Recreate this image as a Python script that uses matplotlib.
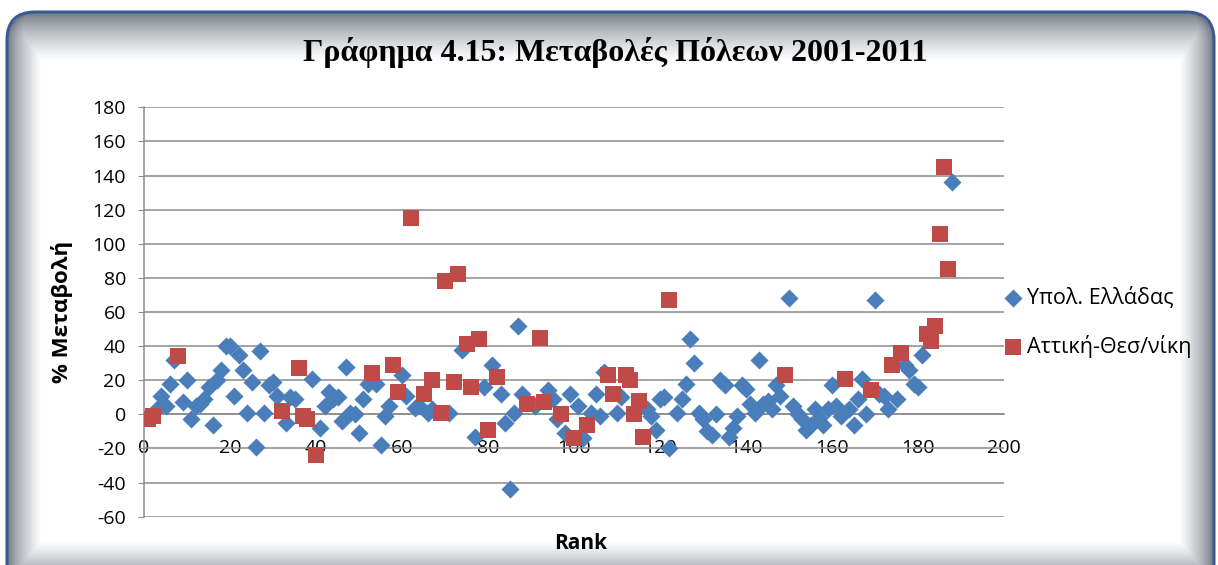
import numpy as np
import matplotlib
matplotlib.use("Agg")
import matplotlib.pyplot as plt
from matplotlib.patches import FancyBboxPatch

plt.rcParams["font.family"] = ["Open Sans", "DejaVu Sans"]
plt.rcParams["axes.unicode_minus"] = False

# rank / % change, rest of Greece
rest_rank = [3, 4, 5, 6, 7, 9, 10, 11, 12, 13, 14, 15, 16, 17, 18, 19, 20, 21, 22, 23,
             24, 25, 26, 27, 28, 29, 30, 31, 33, 34, 35, 39, 41, 42, 43, 44, 45, 46, 47, 48,
             49, 50, 51, 52, 54, 55, 56, 57, 60, 61, 63, 64, 66, 67, 71, 74, 77, 79, 81, 83,
             84, 85, 86, 87, 88, 91, 94, 95, 96, 98, 99, 101, 102, 104, 105, 106, 107, 110, 111, 117,
             118, 119, 120, 121, 122, 124, 125, 126, 127, 128, 129, 130, 131, 132, 133, 134, 135, 136, 137, 138,
             139, 140, 141, 142, 143, 144, 145, 146, 147, 148, 150, 151, 152, 153, 154, 155, 156, 157, 158, 159,
             160, 161, 162, 164, 165, 166, 167, 168, 170, 171, 172, 173, 175, 177, 178, 179, 180, 181, 188]
rest_change = [3, 11, 5, 18, 32, 7, 20, -3, 5, 6, 9, 16, -6, 20, 26, 40, 40, 11, 35, 26,
               1, 19, -19, 37, 1, 17, 19, 11, -5, 10, 9, 21, -8, 5, 13, 9, 10, -4, 28, 1,
               0, -11, 9, 18, 18, -18, -1, 5, 23, 11, 4, 5, 1, 3, 1, 38, -13, 16, 29, 12,
               -5, -44, 1, 52, 12, 5, 14, 9, -3, -11, 12, 5, -14, 1, 12, -1, 25, 1, 10, 3,
               -1, -9, 9, 10, -20, 1, 9, 18, 44, 30, 1, -3, -10, -12, 0, 20, 17, -13, -8, -1,
               17, 15, 6, 1, 32, 6, 8, 3, 17, 11, 68, 5, 0, -3, -9, -6, 3, -2, -6, 3,
               17, 5, -1, 3, -6, 9, 21, 0, 67, 12, 11, 3, 9, 29, 26, 18, 16, 35, 136]

# rank / % change, Attica - Thessaloniki
att_rank = [1, 2, 8, 32, 36, 37, 38, 40, 53, 58, 59, 62, 65, 67, 69, 70, 72, 73, 75, 76,
            78, 80, 82, 89, 92, 93, 97, 100, 103, 108, 109, 112, 113, 114, 115, 116, 122, 149, 163, 169,
            174, 176, 182, 183, 184, 185, 186, 187]
att_change = [-3, -1, 34, 2, 27, -1, -3, -24, 24, 29, 13, 115, 12, 20, 1, 78, 19, 82, 41, 16,
              44, -9, 22, 6, 45, 7, 0, -14, -6, 23, 12, 23, 20, 0, 8, -13, 67, 23, 21, 14,
              29, 36, 47, 43, 52, 106, 145, 85]

W, H = 1218, 565
fig = plt.figure(figsize=(W / 100, H / 100), dpi=100)

# chart area background: rounded frame with a soft grey inner shadow
bg = fig.add_axes([0, 0, 1, 1], zorder=-5)
yy, xx = np.mgrid[0:H, 0:W] + 0.5
L, T, R, B, rad = 7, 12, 1214, 640, 28
hx, hy = (R - L) / 2, (B - T) / 2
qx = np.abs(xx - (L + R) / 2) - (hx - rad)
qy = np.abs(yy - (T + B) / 2) - (hy - rad)
sdf = np.hypot(np.maximum(qx, 0), np.maximum(qy, 0)) + np.minimum(np.maximum(qx, qy), 0) - rad
s = np.minimum.reduce([(xx - L) / 32, (yy - T) / 48, (R - xx) / 24, (582 - yy) / 40, -sdf / 34])
s = np.clip(s, 0, 1) ** 0.7
grey = np.array([0.40, 0.43, 0.48])
img = grey[None, None, :] * (1 - s[..., None]) + s[..., None]
img[sdf > 0] = 1.0
bg.imshow(img, extent=[0, W, H, 0], aspect="auto", interpolation="bilinear")
bg.add_patch(FancyBboxPatch((L, T), R - L, B - T,
                            boxstyle=f"round,pad=0,rounding_size={rad}",
                            ec="#3a5b92", fc="none", lw=2.2))
bg.set_xlim(0, W)
bg.set_ylim(H, 0)
bg.axis("off")

# plot area
ax = fig.add_axes([144 / W, 1 - 516.7 / H, 860 / W, 409.4 / H])
ax.set_facecolor("none")
ax.scatter(rest_rank, rest_change, marker="D", s=85, color="#4a7ebb", lw=0,
           label="Υπολ. Ελλάδας", zorder=3)
ax.scatter(att_rank, att_change, marker="s", s=130, color="#be4b48", lw=0,
           label="Αττική-Θεσ/νίκη", zorder=3)

ax.set_xlim(0, 200)
ax.set_ylim(-60, 180)
ax.set_xticks(np.arange(0, 201, 20))
ax.set_yticks(np.arange(-60, 181, 20))
ax.yaxis.grid(True, color="#8c8c8c", lw=1.1)
ax.set_axisbelow(True)
for side in ["top", "right"]:
    ax.spines[side].set_visible(False)
ax.spines["left"].set_color("#8c8c8c")
ax.spines["left"].set_linewidth(1.1)
ax.spines["bottom"].set_position(("data", 0))
ax.spines["bottom"].set_color("#8c8c8c")
ax.spines["bottom"].set_linewidth(1.1)
ax.tick_params(axis="y", length=4, color="#8c8c8c", pad=9, labelsize=14)
ax.tick_params(axis="x", length=0, pad=18, labelsize=14)

ax.set_ylabel("% Μεταβολή", fontsize=16, fontweight="bold", labelpad=14)
ax.set_xlabel("Rank", fontsize=15, fontweight="bold")
ax.xaxis.set_label_coords(0.508, -0.04)

fig.text(615 / W, 1 - 53 / H, "Γράφημα 4.15: Μεταβολές Πόλεων 2001-2011",
         ha="center", va="center", fontsize=23, fontweight="bold",
         family=["Liberation Serif", "DejaVu Serif"])

ax.legend(loc="center left", bbox_to_anchor=(0.983, 0.475), frameon=False,
          fontsize=15.5, handletextpad=0.05, labelspacing=1.2, markerscale=1.0,
          borderpad=0, handlelength=1.2)

plt.savefig("out.png", dpi=100)
